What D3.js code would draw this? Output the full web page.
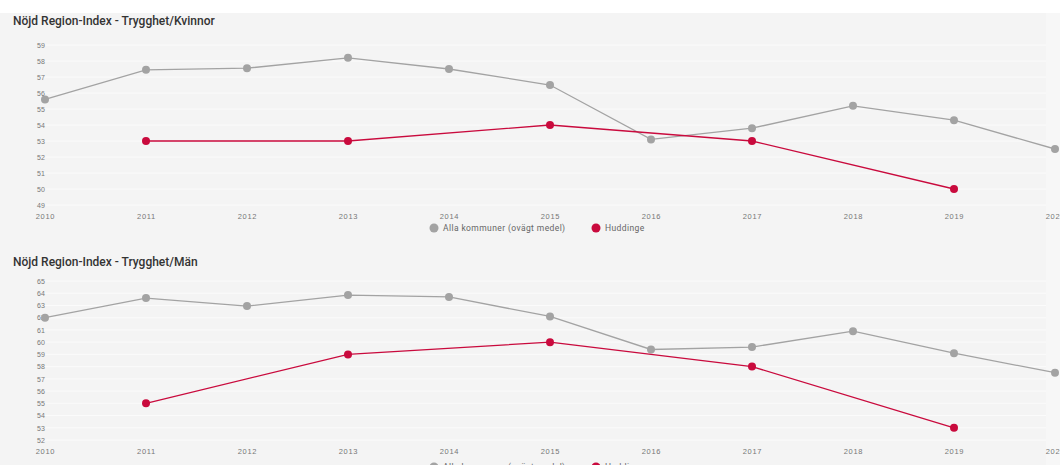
<!DOCTYPE html>
<html>
<head>
<meta charset="utf-8">
<script src="https://cdn.jsdelivr.net/npm/d3@7"></script>
<style>
  body { margin: 0; background: #fff; font-family: Roboto, "Open Sans", sans-serif; }
  .title { font-size: 12px; font-weight: 500; fill: #333; }
  .ytick .tick text { font-size: 7px; fill: #777; }
  .xtick .tick text { font-size: 7.5px; fill: #777; letter-spacing: 0.7px; }
  .legend { font-size: 8.5px; fill: #666; letter-spacing: 0.4px; }
</style>
</head>
<body>
<div id="chart"></div>
<script>
// two stacked charts: women / men, unweighted average of all municipalities vs Huddinge
const years = [2010, 2011, 2012, 2013, 2014, 2015, 2016, 2017, 2018, 2019, 2020];
const allaKvinnor = [55.6, 57.45, 57.55, 58.2, 57.5, 56.5, 53.1, 53.8, 55.2, 54.3, 52.5];
const huddingeKvinnor = [null, 53, null, 53, null, 54, null, 53, null, 50, null];
const allaMan = [62.0, 63.6, 62.95, 63.85, 63.7, 62.1, 59.4, 59.6, 60.9, 59.1, 57.5];
const huddingeMan = [null, 55, null, 59, null, 60, null, 58, null, 53, null];
const seriesNames = ["Alla kommuner (ovägt medel)", "Huddinge"];
const GREY = "#a3a3a3", RED = "#c90a3d";

const W = 1060, H = 465;
const svg = d3.select("#chart").append("svg").attr("width", W).attr("height", H);
svg.append("rect").attr("x", 0).attr("y", 13).attr("width", 1046).attr("height", H - 13).attr("fill", "#f4f4f4");
svg.append("rect").attr("x", 1046).attr("y", 13).attr("width", W - 1046).attr("height", H - 13).attr("fill", "#f7f7f7");

const x = d3.scaleLinear().domain([2010, 2020]).range([45, 1055]);

function drawPanel(cfg){
  const y = d3.scaleLinear().domain(cfg.domain).range(cfg.range);
  const g = svg.append("g");
  const ticks = d3.range(cfg.domain[0], cfg.domain[1] + 1);

  g.append("text").attr("class", "title").attr("x", 13).attr("y", cfg.titleY).text(cfg.title);

  // faint grid
  g.selectAll(".grid").data(ticks).join("line")
      .attr("x1", 40).attr("x2", 1046)
      .attr("y1", d => y(d)).attr("y2", d => y(d))
      .attr("stroke", "#fbfbfb").attr("stroke-width", 1);

  const yAxis = g.append("g").attr("class", "ytick").attr("transform", "translate(37,0)")
      .call(d3.axisLeft(y).tickValues(ticks).tickSize(0).tickPadding(0));
  yAxis.select(".domain").remove();
  yAxis.selectAll("text").attr("text-anchor", "start").attr("x", 0);

  const xAxis = g.append("g").attr("class", "xtick").attr("transform", `translate(0,${cfg.range[0] + 6})`)
      .call(d3.axisBottom(x).tickValues(years).tickFormat(d3.format("d")).tickSize(0).tickPadding(3));
  xAxis.select(".domain").remove();

  const line = d3.line().x(d => x(d[0])).y(d => y(d[1]));
  const grey = years.map((yr, i) => [yr, cfg.alla[i]]);
  const red = years.map((yr, i) => [yr, cfg.hud[i]]).filter(d => d[1] != null);

  g.append("path").datum(grey).attr("d", line).attr("fill", "none").attr("stroke", GREY).attr("stroke-width", 1.3);
  g.selectAll(".gdot").data(grey).join("circle")
      .attr("cx", d => x(d[0])).attr("cy", d => y(d[1])).attr("r", 4).attr("fill", GREY);
  g.append("path").datum(red).attr("d", line).attr("fill", "none").attr("stroke", RED).attr("stroke-width", 1.3);
  g.selectAll(".rdot").data(red).join("circle")
      .attr("cx", d => x(d[0])).attr("cy", d => y(d[1])).attr("r", 4).attr("fill", RED);

  // legend
  const lg = g.append("g").attr("transform", `translate(0,${cfg.legendY})`);
  [[434, GREY, seriesNames[0]], [596, RED, seriesNames[1]]].forEach(([lx, c, t]) => {
    lg.append("circle").attr("cx", lx).attr("cy", 0).attr("r", 4.5).attr("fill", c);
    lg.append("text").attr("class", "legend").attr("x", lx + 9).attr("y", 3).text(t);
  });
}

drawPanel({ title: "Nöjd Region-Index - Trygghet/Kvinnor", titleY: 25,
            domain: [49, 59], range: [205, 45], alla: allaKvinnor, hud: huddingeKvinnor, legendY: 228 });
drawPanel({ title: "Nöjd Region-Index - Trygghet/Män", titleY: 266,
            domain: [52, 65], range: [440, 281], alla: allaMan, hud: huddingeMan, legendY: 467 });
</script>
</body>
</html>
